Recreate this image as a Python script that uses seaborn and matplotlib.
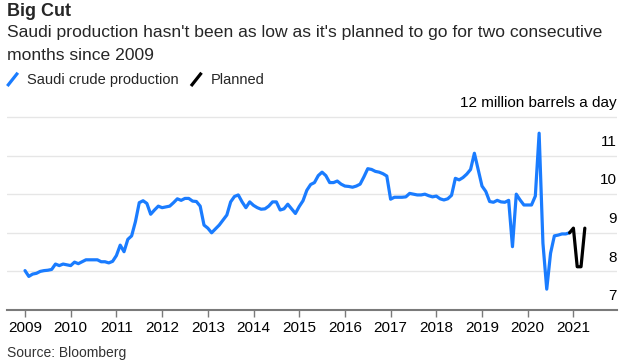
import numpy as np
import pandas as pd
import seaborn as sns
import matplotlib.pyplot as plt
import matplotlib.transforms as mtransforms
from matplotlib.lines import Line2D
from matplotlib.legend_handler import HandlerBase

# Saudi crude production, monthly, Jan 2009 - Dec 2020 (million barrels a day)
prod_2009 = [8.02, 7.87, 7.93, 7.95, 8.00, 8.02, 8.03, 8.05, 8.19, 8.15, 8.19, 8.17]
prod_2010 = [8.15, 8.24, 8.20, 8.25, 8.30, 8.30, 8.30, 8.30, 8.25, 8.25, 8.22, 8.26]
prod_2011 = [8.41, 8.68, 8.51, 8.83, 8.92, 9.29, 9.78, 9.83, 9.76, 9.48, 9.59, 9.69]
prod_2012 = [9.65, 9.67, 9.69, 9.78, 9.88, 9.84, 9.89, 9.89, 9.82, 9.81, 9.69, 9.20]
prod_2013 = [9.12, 9.00, 9.10, 9.20, 9.33, 9.46, 9.80, 9.94, 9.98, 9.80, 9.65, 9.80]
prod_2014 = [9.71, 9.65, 9.61, 9.62, 9.69, 9.80, 9.80, 9.59, 9.62, 9.74, 9.62, 9.50]
prod_2015 = [9.68, 9.83, 10.10, 10.25, 10.30, 10.48, 10.57, 10.48, 10.30, 10.30, 10.34, 10.26]
prod_2016 = [10.21, 10.20, 10.18, 10.21, 10.26, 10.45, 10.66, 10.64, 10.59, 10.57, 10.53, 10.47]
prod_2017 = [9.87, 9.92, 9.92, 9.92, 9.93, 10.02, 10.00, 9.98, 9.98, 10.00, 9.96, 9.93]
prod_2018 = [9.95, 9.88, 9.85, 9.88, 9.97, 10.41, 10.37, 10.43, 10.52, 10.64, 11.06, 10.63]
prod_2019 = [10.21, 10.07, 9.81, 9.79, 9.84, 9.80, 9.79, 9.84, 8.64, 10.00, 9.85, 9.72]
prod_2020 = [9.72, 9.72, 9.95, 11.58, 8.73, 7.54, 8.47, 8.92, 8.94, 8.97, 8.97, 9.00]

# Planned output, Dec 2020 - Apr 2021
planned_months = ['2020-12', '2021-01', '2021-02', '2021-03', '2021-04']
planned_vals = [9.00, 9.12, 8.12, 8.12, 9.12]

year_ticks = list(range(2009, 2022))
grid_vals = [8, 9, 10, 11, 12]
ytick_vals = [7, 8, 9, 10, 11, 12]
ytick_labels = ['7', '8', '9', '10', '11', '12 million barrels a day']

BLUE = '#1a7cff'
FONT = ['Liberation Sans', 'DejaVu Sans']


def frac_year(ym):
    y, m = ym.split('-')
    return int(y) + (int(m) - 1) / 12


prod = (prod_2009 + prod_2010 + prod_2011 + prod_2012 + prod_2013 + prod_2014
        + prod_2015 + prod_2016 + prod_2017 + prod_2018 + prod_2019 + prod_2020)
prod_months = [f'{y}-{m:02d}' for y in range(2009, 2021) for m in range(1, 13)]

df = pd.DataFrame({
    'x': [frac_year(s) for s in prod_months] + [frac_year(s) for s in planned_months],
    'val': prod + planned_vals,
    'serie': ['Saudi crude production'] * len(prod) + ['Planned'] * len(planned_vals),
})


class SlashHandler(HandlerBase):
    def create_artists(self, legend, orig_handle, xdescent, ydescent,
                       width, height, fontsize, trans):
        x0 = -xdescent + width * 0.1
        x1 = -xdescent + width * 0.9
        y0 = -ydescent - height * 0.2
        y1 = -ydescent + height * 1.1
        ln = Line2D([x0, x1], [y0, y1], color=orig_handle.get_color(),
                    lw=2.3, solid_capstyle='butt', transform=trans)
        return [ln]


sns.set_theme(style='white')
plt.rcParams['font.family'] = FONT

fig = plt.figure(figsize=(6.3, 3.63), dpi=100)
ax = fig.add_axes([7 / 630, 53 / 363, 610 / 630, 200 / 363])

sns.lineplot(data=df, x='x', y='val', hue='serie',
             palette={'Saudi crude production': BLUE, 'Planned': 'black'},
             linewidth=2.3, ax=ax, legend=True)

ax.set_xlim(2008.606, 2021.954)
ax.set_ylim(7, 12.18)
ax.set_xlabel('')
ax.set_ylabel('')

for v in grid_vals:
    ax.axhline(v, color='#e6e6e6', lw=1, zorder=0)
ax.set_yticks([])

sns.despine(ax=ax, left=True, right=True, top=True)
ax.spines['bottom'].set_color('#7a7a7a')
ax.spines['bottom'].set_linewidth(1.5)
ax.set_xticks(year_ticks)
ax.set_xticklabels([str(y) for y in year_ticks])
ax.tick_params(axis='x', bottom=True, length=5, width=1, color='#7a7a7a',
               pad=3, labelsize=11, labelcolor='black')

blend = mtransforms.blended_transform_factory(ax.transAxes, ax.transData)
lab_trans = mtransforms.offset_copy(blend, fig=fig, y=10, units='points')
for v, lab in zip(ytick_vals, ytick_labels):
    ax.text(1.0, v, lab, transform=lab_trans, ha='right', va='center',
            fontsize=11, color='black')

handles, labels = ax.get_legend_handles_labels()
ax.get_legend().remove()
fig.legend(handles, labels, loc='center left', bbox_to_anchor=(6 / 630, 1 - 80 / 363),
           ncol=2, frameon=False, fontsize=10.5, handlelength=0.9,
           handletextpad=0.55, columnspacing=0.75, borderaxespad=0, borderpad=0,
           handler_map={Line2D: SlashHandler()})

fig.text(7 / 630, 1 - 12 / 363, 'Big Cut', fontsize=13, fontweight='bold',
         va='center', ha='left')
subtitle = ["Saudi production hasn't been as low as it's planned to go for two consecutive",
            'months since 2009']
for txt, yc in zip(subtitle, [33, 55]):
    fig.text(7 / 630, 1 - yc / 363, txt, fontsize=12.6, va='center', ha='left')
fig.text(7 / 630, 1 - 353 / 363, 'Source: Bloomberg', fontsize=10,
         va='center', ha='left', color='#333333')

plt.savefig('out.png', dpi=100)
plt.close()
